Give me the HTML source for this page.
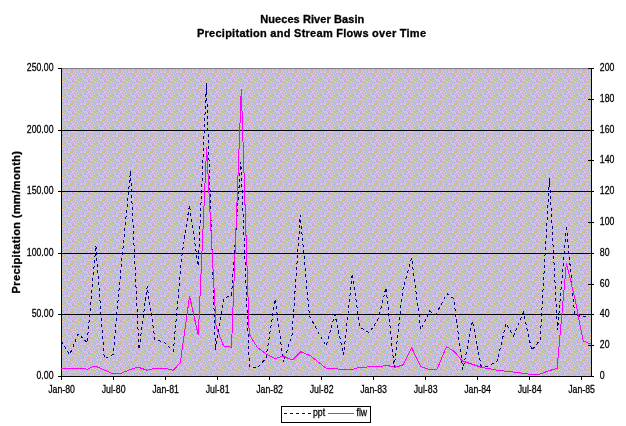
<!DOCTYPE html>
<html lang="en">
<head>
<meta charset="utf-8">
<title>Nueces River Basin - Precipitation and Stream Flows over Time</title>
<style>
html,body{margin:0;padding:0;background:#fff;}
body{width:626px;height:426px;overflow:hidden;}
svg{display:block;font-family:"Liberation Sans",Arial,sans-serif;}
.t{font-weight:bold;font-size:11px;letter-spacing:0.27px;fill:#000;stroke:#000;stroke-width:0.3px;}
.a{font-size:10px;fill:#000;stroke:#000;stroke-width:0.25px;}
</style>
</head>
<body>
<svg width="626" height="426" viewBox="0 0 626 426">
<rect x="0" y="0" width="626" height="426" fill="#ffffff"/>
<defs><pattern id="dz" x="61" y="68" width="16" height="16" patternUnits="userSpaceOnUse" shape-rendering="crispEdges"><rect width="16" height="16" fill="#c3c1c5"/><path fill="#d1b0e9" d="M0 0h1v1h-1zM4 0h1v1h-1zM13 0h1v1h-1zM8 1h1v1h-1zM3 2h1v1h-1zM7 2h1v1h-1zM15 2h1v1h-1zM11 3h1v1h-1zM5 4h1v1h-1zM0 5h1v1h-1zM8 5h1v1h-1zM12 5h1v1h-1zM11 6h1v1h-1zM2 7h1v1h-1zM7 7h1v1h-1zM15 7h1v1h-1zM5 8h1v1h-1zM9 8h1v1h-1zM0 9h1v1h-1zM13 9h1v1h-1zM2 10h1v1h-1zM7 10h1v1h-1zM11 10h1v1h-1zM15 10h1v1h-1zM4 12h1v1h-1zM9 12h1v1h-1zM13 12h1v1h-1zM0 13h1v1h-1zM3 14h1v1h-1zM7 14h1v1h-1zM11 14h1v1h-1zM14 14h1v1h-1z"/><path fill="#b0d2a7" d="M1 0h1v1h-1zM8 0h1v1h-1zM12 0h1v1h-1zM5 1h1v1h-1zM3 3h1v1h-1zM7 3h1v1h-1zM10 3h1v1h-1zM14 3h1v1h-1zM0 4h1v1h-1zM12 4h1v1h-1zM4 5h1v1h-1zM9 5h1v1h-1zM2 6h1v1h-1zM7 6h1v1h-1zM10 6h1v1h-1zM14 7h1v1h-1zM12 8h1v1h-1zM1 9h1v1h-1zM5 9h1v1h-1zM8 9h1v1h-1zM3 10h1v1h-1zM7 11h1v1h-1zM11 11h1v1h-1zM14 11h1v1h-1zM0 12h1v1h-1zM8 12h1v1h-1zM12 12h1v1h-1zM5 13h1v1h-1zM15 14h1v1h-1zM2 15h1v1h-1zM6 15h1v1h-1zM10 15h1v1h-1z"/><path fill="#dcd29c" d="M2 0h1v1h-1zM11 0h1v1h-1zM14 0h1v1h-1zM7 1h1v1h-1zM0 2h1v1h-1zM12 2h1v1h-1zM4 3h1v1h-1zM8 3h1v1h-1zM6 4h1v1h-1zM2 5h1v1h-1zM10 5h1v1h-1zM14 5h1v1h-1zM8 6h1v1h-1zM0 7h1v1h-1zM5 7h1v1h-1zM13 7h1v1h-1zM2 8h1v1h-1zM6 8h1v1h-1zM10 9h1v1h-1zM15 9h1v1h-1zM1 10h1v1h-1zM5 11h1v1h-1zM9 11h1v1h-1zM13 11h1v1h-1zM3 12h1v1h-1zM10 12h1v1h-1zM14 12h1v1h-1zM6 13h1v1h-1zM1 14h1v1h-1zM4 14h1v1h-1zM13 14h1v1h-1zM8 15h1v1h-1z"/><path fill="#b0b0e9" d="M3 0h1v1h-1zM6 1h1v1h-1zM11 1h1v1h-1zM15 1h1v1h-1zM4 2h1v1h-1zM9 2h1v1h-1zM13 2h1v1h-1zM1 3h1v1h-1zM10 4h1v1h-1zM15 4h1v1h-1zM3 5h1v1h-1zM7 5h1v1h-1zM1 6h1v1h-1zM5 6h1v1h-1zM12 6h1v1h-1zM8 7h1v1h-1zM10 8h1v1h-1zM15 8h1v1h-1zM2 9h1v1h-1zM7 9h1v1h-1zM4 10h1v1h-1zM9 10h1v1h-1zM13 10h1v1h-1zM1 11h1v1h-1zM6 12h1v1h-1zM3 13h1v1h-1zM11 13h1v1h-1zM14 13h1v1h-1zM1 15h1v1h-1zM5 15h1v1h-1zM9 15h1v1h-1zM13 15h1v1h-1z"/><path fill="#b0d2e9" d="M5 0h1v1h-1zM9 0h1v1h-1zM1 1h1v1h-1zM13 1h1v1h-1zM2 2h1v1h-1zM6 2h1v1h-1zM10 2h1v1h-1zM14 2h1v1h-1zM1 4h1v1h-1zM4 4h1v1h-1zM8 4h1v1h-1zM13 5h1v1h-1zM14 6h1v1h-1zM3 7h1v1h-1zM6 7h1v1h-1zM11 7h1v1h-1zM1 8h1v1h-1zM4 9h1v1h-1zM9 9h1v1h-1zM12 9h1v1h-1zM10 10h1v1h-1zM2 11h1v1h-1zM6 11h1v1h-1zM15 11h1v1h-1zM5 12h1v1h-1zM1 13h1v1h-1zM8 13h1v1h-1zM13 13h1v1h-1zM6 14h1v1h-1zM3 15h1v1h-1zM11 15h1v1h-1zM14 15h1v1h-1z"/><path fill="#b6b7ac" d="M6 0h1v1h-1zM2 1h1v1h-1zM10 1h1v1h-1zM14 1h1v1h-1zM1 2h1v1h-1zM5 2h1v1h-1zM9 3h1v1h-1zM12 3h1v1h-1zM2 4h1v1h-1zM11 4h1v1h-1zM6 5h1v1h-1zM15 5h1v1h-1zM9 6h1v1h-1zM13 6h1v1h-1zM1 7h1v1h-1zM4 7h1v1h-1zM7 8h1v1h-1zM3 9h1v1h-1zM11 9h1v1h-1zM14 9h1v1h-1zM8 10h1v1h-1zM0 11h1v1h-1zM4 11h1v1h-1zM12 11h1v1h-1zM2 12h1v1h-1zM11 12h1v1h-1zM7 13h1v1h-1zM15 13h1v1h-1zM0 14h1v1h-1zM5 14h1v1h-1zM8 14h1v1h-1zM12 14h1v1h-1z"/><path fill="#d1d2e9" d="M7 0h1v1h-1zM10 0h1v1h-1zM15 0h1v1h-1zM3 1h1v1h-1zM8 2h1v1h-1zM0 3h1v1h-1zM5 3h1v1h-1zM13 3h1v1h-1zM3 4h1v1h-1zM7 4h1v1h-1zM14 4h1v1h-1zM11 5h1v1h-1zM0 6h1v1h-1zM4 6h1v1h-1zM9 7h1v1h-1zM12 7h1v1h-1zM3 8h1v1h-1zM11 8h1v1h-1zM14 8h1v1h-1zM6 9h1v1h-1zM0 10h1v1h-1zM5 10h1v1h-1zM12 10h1v1h-1zM8 11h1v1h-1zM7 12h1v1h-1zM15 12h1v1h-1zM2 13h1v1h-1zM10 13h1v1h-1zM9 14h1v1h-1zM0 15h1v1h-1zM4 15h1v1h-1zM12 15h1v1h-1z"/><path fill="#dcb09c" d="M0 1h1v1h-1zM4 1h1v1h-1zM9 1h1v1h-1zM12 1h1v1h-1zM11 2h1v1h-1zM2 3h1v1h-1zM6 3h1v1h-1zM15 3h1v1h-1zM9 4h1v1h-1zM13 4h1v1h-1zM1 5h1v1h-1zM5 5h1v1h-1zM3 6h1v1h-1zM6 6h1v1h-1zM15 6h1v1h-1zM10 7h1v1h-1zM0 8h1v1h-1zM4 8h1v1h-1zM8 8h1v1h-1zM13 8h1v1h-1zM6 10h1v1h-1zM14 10h1v1h-1zM3 11h1v1h-1zM10 11h1v1h-1zM1 12h1v1h-1zM4 13h1v1h-1zM9 13h1v1h-1zM12 13h1v1h-1zM2 14h1v1h-1zM10 14h1v1h-1zM7 15h1v1h-1zM15 15h1v1h-1z"/></pattern></defs>
<rect x="61" y="68" width="531" height="309" fill="#c3c1c5"/><rect x="61" y="68" width="531" height="309" fill="url(#dz)"/>
<g shape-rendering="crispEdges" stroke="#000" stroke-width="1" fill="none">
<line x1="61" y1="68.5" x2="592" y2="68.5" stroke="#808080"/>
<line x1="61" y1="130.5" x2="592" y2="130.5"/>
<line x1="61" y1="191.5" x2="592" y2="191.5"/>
<line x1="61" y1="253.5" x2="592" y2="253.5"/>
<line x1="61" y1="314.5" x2="592" y2="314.5"/>
<line x1="61.5" y1="68" x2="61.5" y2="377"/>
<line x1="591.5" y1="68" x2="591.5" y2="377"/>
<line x1="61" y1="376.5" x2="592" y2="376.5"/>
<line x1="58" y1="68.5" x2="61" y2="68.5"/>
<line x1="58" y1="130.5" x2="61" y2="130.5"/>
<line x1="58" y1="191.5" x2="61" y2="191.5"/>
<line x1="58" y1="253.5" x2="61" y2="253.5"/>
<line x1="58" y1="314.5" x2="61" y2="314.5"/>
<line x1="58" y1="376.5" x2="61" y2="376.5"/>
<line x1="588" y1="68.5" x2="594" y2="68.5"/>
<line x1="588" y1="99.5" x2="594" y2="99.5"/>
<line x1="588" y1="130.5" x2="594" y2="130.5"/>
<line x1="588" y1="160.5" x2="594" y2="160.5"/>
<line x1="588" y1="191.5" x2="594" y2="191.5"/>
<line x1="588" y1="222.5" x2="594" y2="222.5"/>
<line x1="588" y1="253.5" x2="594" y2="253.5"/>
<line x1="588" y1="284.5" x2="594" y2="284.5"/>
<line x1="588" y1="314.5" x2="594" y2="314.5"/>
<line x1="588" y1="345.5" x2="594" y2="345.5"/>
<line x1="588" y1="376.5" x2="594" y2="376.5"/>
<line x1="61.5" y1="376" x2="61.5" y2="380"/>
<line x1="113.5" y1="376" x2="113.5" y2="380"/>
<line x1="165.5" y1="376" x2="165.5" y2="380"/>
<line x1="217.5" y1="376" x2="217.5" y2="380"/>
<line x1="269.5" y1="376" x2="269.5" y2="380"/>
<line x1="321.5" y1="376" x2="321.5" y2="380"/>
<line x1="373.5" y1="376" x2="373.5" y2="380"/>
<line x1="425.5" y1="376" x2="425.5" y2="380"/>
<line x1="477.5" y1="376" x2="477.5" y2="380"/>
<line x1="529.5" y1="376" x2="529.5" y2="380"/>
<line x1="581.5" y1="376" x2="581.5" y2="380"/>
</g>
<polyline points="61.2,341.0 69.7,354.7 78.4,333.5 87.1,342.8 95.9,245.7 104.3,358.5 113.1,354.7 121.8,260.0 130.5,171.5 139.0,349.7 147.2,286.2 155.0,340.0 163.4,341.8 173.4,351.0 181.3,260.0 189.4,205.1 198.2,266.0 206.4,83.0 215.4,350.0 223.6,298.7 231.5,295.0 240.8,162.0 249.5,367.0 257.2,367.7 265.9,358.5 275.2,299.4 283.4,362.2 292.0,335.0 300.3,215.1 309.5,316.0 318.0,332.0 326.2,346.0 334.9,314.4 343.6,354.7 352.3,273.7 359.8,327.3 369.3,332.8 378.5,318.6 386.0,287.4 394.2,367.2 402.7,290.0 411.6,258.2 420.9,329.8 429.6,311.1 435.8,314.4 447.0,293.7 453.7,298.7 462.9,369.7 472.4,321.1 481.1,366.0 488.6,366.0 497.3,361.0 506.0,323.6 513.5,336.0 523.5,312.4 531.7,350.2 540.2,339.8 549.4,178.0 557.6,329.8 566.4,225.8 574.6,313.6 582.0,317.3 585.8,316.0" fill="none" stroke="#000080" stroke-width="1" stroke-dasharray="3 3" shape-rendering="crispEdges"/>
<polyline points="61.2,368.4 82.4,368.4 87.4,369.2 94.9,365.9 103.6,369.7 112.3,373.4 121.0,373.4 129.8,369.7 138.0,367.2 147.2,370.2 154.7,368.4 164.6,368.4 173.4,370.2 180.3,362.7 189.6,296.2 198.3,335.3 206.6,147.2 216.1,326.8 223.6,346.0 231.5,347.2 241.3,89.0 249.2,334.3 257.2,347.2 267.2,354.7 275.2,358.5 283.4,356.0 292.1,360.2 300.8,351.7 310.8,356.0 326.2,368.4 352.3,369.7 359.8,367.2 379.7,366.7 386.0,365.2 394.7,367.2 402.7,365.2 411.6,347.7 420.9,366.7 428.3,369.2 437.0,369.2 446.5,346.7 453.7,351.0 462.4,361.0 481.1,367.2 497.3,370.2 514.8,372.2 529.7,374.2 539.7,374.2 548.4,370.9 557.1,368.4 566.4,263.0 574.6,297.4 583.3,341.0 591.5,344.3" fill="none" stroke="#ff00ff" stroke-width="1" shape-rendering="crispEdges"/>
<text class="t" style="letter-spacing:0.08px" x="312.3" y="23" text-anchor="middle">Nueces River Basin</text>
<text class="t" x="311.6" y="37" text-anchor="middle">Precipitation and Stream Flows over Time</text>
<text class="t" style="letter-spacing:0.4px" transform="translate(20.3 222) rotate(-90)" text-anchor="middle">Precipitation (mm/month)</text>
<text class="a" transform="translate(53.5 70.9) scale(0.875 1)" text-anchor="end">250.00</text>
<text class="a" transform="translate(53.5 132.5) scale(0.875 1)" text-anchor="end">200.00</text>
<text class="a" transform="translate(53.5 194.1) scale(0.875 1)" text-anchor="end">150.00</text>
<text class="a" transform="translate(53.5 255.7) scale(0.875 1)" text-anchor="end">100.00</text>
<text class="a" transform="translate(53.5 317.3) scale(0.875 1)" text-anchor="end">50.00</text>
<text class="a" transform="translate(53.5 378.9) scale(0.875 1)" text-anchor="end">0.00</text>
<text class="a" transform="translate(599.8 70.9) scale(0.875 1)">200</text>
<text class="a" transform="translate(599.8 101.7) scale(0.875 1)">180</text>
<text class="a" transform="translate(599.8 132.5) scale(0.875 1)">160</text>
<text class="a" transform="translate(599.8 163.3) scale(0.875 1)">140</text>
<text class="a" transform="translate(599.8 194.1) scale(0.875 1)">120</text>
<text class="a" transform="translate(599.8 224.9) scale(0.875 1)">100</text>
<text class="a" transform="translate(599.8 255.7) scale(0.875 1)">80</text>
<text class="a" transform="translate(599.8 286.5) scale(0.875 1)">60</text>
<text class="a" transform="translate(599.8 317.3) scale(0.875 1)">40</text>
<text class="a" transform="translate(599.8 348.1) scale(0.875 1)">20</text>
<text class="a" transform="translate(599.8 378.9) scale(0.875 1)">0</text>
<text class="a" transform="translate(61.6 393) scale(0.875 1)" text-anchor="middle">Jan-80</text>
<text class="a" transform="translate(113.6 393) scale(0.875 1)" text-anchor="middle">Jul-80</text>
<text class="a" transform="translate(165.6 393) scale(0.875 1)" text-anchor="middle">Jan-81</text>
<text class="a" transform="translate(217.6 393) scale(0.875 1)" text-anchor="middle">Jul-81</text>
<text class="a" transform="translate(269.6 393) scale(0.875 1)" text-anchor="middle">Jan-82</text>
<text class="a" transform="translate(321.6 393) scale(0.875 1)" text-anchor="middle">Jul-82</text>
<text class="a" transform="translate(373.6 393) scale(0.875 1)" text-anchor="middle">Jan-83</text>
<text class="a" transform="translate(425.6 393) scale(0.875 1)" text-anchor="middle">Jul-83</text>
<text class="a" transform="translate(477.6 393) scale(0.875 1)" text-anchor="middle">Jan-84</text>
<text class="a" transform="translate(529.6 393) scale(0.875 1)" text-anchor="middle">Jul-84</text>
<text class="a" transform="translate(581.6 393) scale(0.875 1)" text-anchor="middle">Jan-85</text>
<rect x="281.5" y="406.5" width="89" height="16" fill="#fff" stroke="#000" stroke-width="1" shape-rendering="crispEdges"/>
<line x1="284" y1="413.5" x2="311" y2="413.5" stroke="#000080" stroke-width="1" stroke-dasharray="3 3" shape-rendering="crispEdges"/>
<text class="a" transform="translate(313 415.7) scale(0.875 1)">ppt</text>
<line x1="328" y1="413.5" x2="354" y2="413.5" stroke="#ff00ff" stroke-width="1" shape-rendering="crispEdges"/>
<text class="a" transform="translate(356.5 415.7) scale(0.875 1)">flw</text>
</svg>
</body>
</html>
